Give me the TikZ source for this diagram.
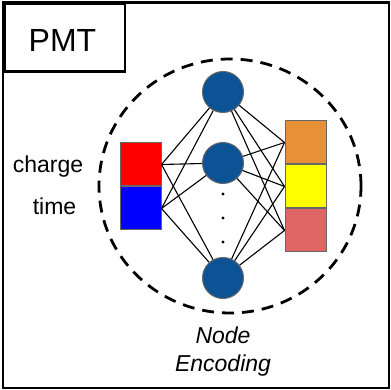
\documentclass[tikz,border=0pt]{standalone}
\usepackage{fontspec}
\setmainfont{Liberation Sans}
\usetikzlibrary{positioning}

\definecolor{nblue}{HTML}{0B5394}
\definecolor{ngray}{HTML}{666666}
\definecolor{chgred}{HTML}{FF0000}
\definecolor{timblue}{HTML}{0000FF}
\definecolor{outorange}{HTML}{E69138}
\definecolor{outyellow}{HTML}{FFFF00}
\definecolor{outsalmon}{HTML}{E06666}

\begin{document}
\begin{tikzpicture}[x=1pt,y=-1pt,
  nrn/.style={circle,draw=ngray,fill=nblue,line width=1pt,minimum size=41pt,inner sep=0pt},
  cell/.style={rectangle,draw=ngray,line width=1pt,minimum width=41pt,minimum height=43pt,inner sep=0pt},
  wire/.style={line width=1.1pt},
  lbl/.style={font=\fontsize{23}{28}\selectfont,align=center}]
  \useasboundingbox (0,0) rectangle (391,390);

  % frame and title
  \draw[line width=2.4pt] (3.2,2.5) rectangle (389,388);
  \node[draw,line width=2.4pt,minimum width=120.3pt,minimum height=68pt,anchor=north west,inner sep=0pt] (pmt) at (3.2,2.5) {};
  \node[anchor=base,font=\fontsize{32}{38}\selectfont] (pmtl) at (62.5,52) {PMT};

  % encoder boundary
  \draw[line width=2.8pt,dash pattern=on 12pt off 8pt] (230,186) ellipse [x radius=131pt,y radius=127pt];

  % input features
  \node[cell,fill=chgred] (q) at (140.5,164.5) {};
  \node[cell,fill=timblue,below=0pt of q] (t) {};
  \node[lbl,anchor=base] (ql) at (48,173) {charge};
  \node[lbl,anchor=base] (tl) at (54.5,215) {time};

  % hidden neurons
  \node[nrn] (n1) at (223,92) {};
  \node[nrn] (n2) at (223,163) {};
  \node[nrn] (n3) at (223,278) {};
  \fill (223,194) circle (1.6pt) (223,218) circle (1.6pt) (223,242) circle (1.6pt);

  % output embedding
  \node[cell,fill=outorange] (o1) at (305.5,142.5) {};
  \node[cell,fill=outyellow,below=0pt of o1] (o2) {};
  \node[cell,fill=outsalmon,below=0pt of o2] (o3) {};

  \draw[wire] (q.east) -- (n1);
  \draw[wire] (q.east) -- (n2);
  \draw[wire] (q.east) -- (n3);
  \draw[wire] (t.east) -- (n1);
  \draw[wire] (t.east) -- (n2);
  \draw[wire] (t.east) -- (n3);

  \draw[wire] (n1) -- (o1.west);
  \draw[wire] (n1) -- (o2.west);
  \draw[wire] (n1) -- (o3.west);
  \draw[wire] (n2) -- (o1.west);
  \draw[wire] (n2) -- (o2.west);
  \draw[wire] (n2) -- (o3.west);
  \draw[wire] (n3) -- (o1.west);
  \draw[wire] (n3) -- (o2.west);
  \draw[wire] (n3) -- (o3.west);

  \node[lbl,font=\fontsize{23}{28}\selectfont\itshape] (enc) at (223,352) {Node\\Encoding};
\end{tikzpicture}
\end{document}
